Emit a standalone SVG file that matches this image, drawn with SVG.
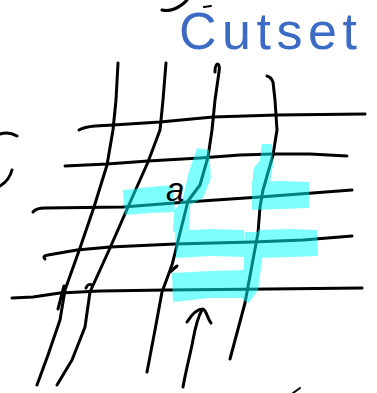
<svg xmlns="http://www.w3.org/2000/svg" width="377" height="393" viewBox="0 0 377 393">
<style>
.ink{fill:none;stroke:#000;stroke-width:3;stroke-linecap:round;stroke-linejoin:round}
.hl{fill:#00FFFF}
.lbl{font-family:"Liberation Sans","DejaVu Sans",sans-serif}
</style>
<rect width="377" height="393" fill="#fff"/>
<g id="stray-marks" class="ink">
<path d="M162,10 C170,12 180,8 187,0"/>
<path d="M204,7 L211,6" stroke-width="2"/>
<path d="M0,134 C6,132 12,133 17,136"/>
<path d="M12,170 C10,178 5,183 0,186"/>
<path d="M293,393 L300,388" stroke-width="2"/>
</g>
<g id="grid-horizontal" class="ink">
<path d="M79,130 Q84,127 95,126 L113,125 L160,122 L213,117 L277,115 L365,114"/>
<path d="M65,166 L107,164 L148,161 L200,158 L240,155 L273,154 L310,154 L347,156"/>
<path d="M33,212 Q36,208 45,208 L123,207 L187,202 L260,197 L352,190"/>
<path d="M45,259 Q42,256 48,255 L77,250 L110,247 L175,244 L253,242 L303,240 L352,236"/>
<path d="M12,298 L33,297 L60,293 L100,291 L167,290 L270,289 L362,288"/>
</g>
<g id="grid-vertical" class="ink">
<path d="M118,63 L116,100 L113,130 L107,165 L94,207 L80,248 L65,290 L60,320 L48,355 L37,385"/>
<path d="M64,286 L58,309"/>
<path d="M166,63 L163,100 L160,130 L148,162 L128,207 L110,248 L90,292 L85,327 L72,360 L57,385"/>
<path d="M86,288 Q88,283 92,285"/>
<path d="M215,72 Q215,64 218,64 Q220,66 219,72 L215,100 L212,130 L208,157 L200,185 L188,201 L177,245 L172,265 L162,292 L155,330 L147,372"/>
<path d="M170,272 L177,266"/>
<path d="M267,76 Q271,77 273,82 L275,100 L277,130 L273,155 L263,190 L260,207 L258,233 L252,265 L245,303 L230,359"/>
</g>
<g id="highlights" opacity="0.5">
<path class="hl" d="M123,190 L150,187 L173,185 L175,212 L150,213 L125,215 Z"/>
<path class="hl" d="M197,148 L209,150 L211,178 L203,198 L190,205 L189,230 L173,232 L174,212 L183,198 L188,175 L193,160 Z"/>
<path class="hl" d="M175,231 L210,229 L244,230 L246,257 L210,256 L176,258 Z"/>
<path class="hl" d="M172,273 L210,271 L244,270 L255,270 L257,290 L247,298 L210,298 L173,302 Z"/>
<path class="hl" d="M245,232 L264,232 L262,260 L258,290 L249,303 L243,300 L244,260 Z"/>
<path class="hl" d="M258,230 L290,229 L317,230 L318,256 L290,257 L260,258 Z"/>
<path class="hl" d="M252,182 L280,181 L309,182 L309,208 L280,209 L252,210 Z"/>
<path class="hl" d="M262,144 L272,144 L273,165 L270,183 L252,184 L254,168 L260,160 Z"/>
</g>
<g id="arrow" class="ink">
<path d="M183,387 C186,370 190,355 192,345 C194,335 196,320 202,310"/>
<path d="M187,322 C192,314 198,309 203,309 C207,311 207,318 211,323"/>
</g>
<g id="labels">
<text class="lbl" x="179" y="49" font-size="52" fill="#3B6BC4" textLength="178" lengthAdjust="spacing">Cutset</text>
<text class="lbl" x="166" y="201" font-size="33" font-style="italic" fill="#000">a</text>
</g>
</svg>
